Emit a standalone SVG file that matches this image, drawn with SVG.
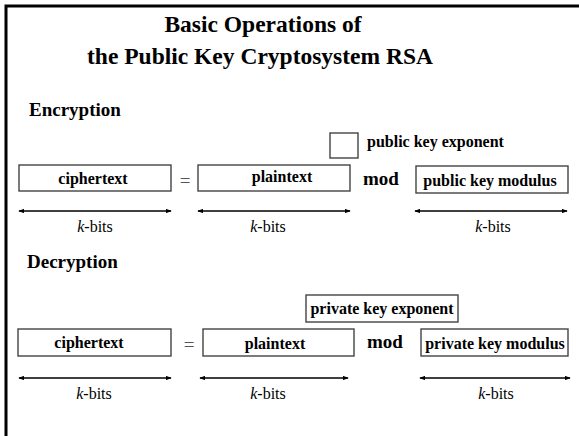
<svg xmlns="http://www.w3.org/2000/svg" width="579" height="436" viewBox="0 0 579 436">
  <style>
    text { font-family: "Liberation Serif", "Times New Roman", serif; fill: #000; }
    .title { font-size: 23.5px; font-weight: bold; text-anchor: middle; }
    .head { font-size: 19px; font-weight: bold; }
    .lbl { font-size: 16px; font-weight: bold; }
    .op { font-size: 19px; font-weight: bold; }
    .eq { font-size: 19px; fill: #555; text-anchor: middle; }
    .bits { font-size: 16px; text-anchor: middle; }
    .box { fill: #fff; stroke: #444; stroke-width: 1.4; }
    .arrow { stroke: #000; stroke-width: 1.4; fill: none; marker-start: url(#tip); marker-end: url(#tip); }
    .frame { stroke: #000; stroke-width: 3; fill: none; }
  </style>
  <defs>
    <marker id="tip" viewBox="0 0 8 6" refX="7" refY="3" markerWidth="6" markerHeight="4.5" markerUnits="userSpaceOnUse" orient="auto-start-reverse">
      <path d="M0,0 L8,3 L0,6 Z" fill="#000"/>
    </marker>
  </defs>

  <rect width="579" height="436" fill="#fff"/>
  <!-- page frame: top and left rules -->
  <path class="frame" d="M6,436 V6 H579"/>

  <g id="title">
    <text class="title" x="263" y="32">Basic Operations of</text>
    <text class="title" x="260" y="64">the Public Key Cryptosystem RSA</text>
  </g>

  <!-- Encryption -->
  <text class="head" x="29" y="116">Encryption</text>

  <g id="enc-ciphertext">
    <rect class="box" x="19" y="165" width="152" height="26"/>
    <text class="lbl" x="93" y="184" text-anchor="middle">ciphertext</text>
  </g>
  <text class="eq" x="185" y="187">=</text>
  <g id="enc-plaintext">
    <rect class="box" x="198" y="165" width="152" height="26"/>
    <text class="lbl" x="282" y="182" text-anchor="middle">plaintext</text>
  </g>
  <g id="enc-exponent">
    <rect class="box" x="330" y="133" width="28" height="25"/>
    <text class="lbl" x="367" y="147">public key exponent</text>
  </g>
  <text class="op" x="363" y="185">mod</text>
  <g id="enc-modulus">
    <rect class="box" x="416" y="166" width="152" height="27"/>
    <text class="lbl" x="490" y="186" text-anchor="middle">public key modulus</text>
  </g>

  <!-- Decryption -->
  <text class="head" x="27" y="268">Decryption</text>

  <g id="dec-ciphertext">
    <rect class="box" x="18" y="329" width="153" height="27"/>
    <text class="lbl" x="89" y="348" text-anchor="middle">ciphertext</text>
  </g>
  <text class="eq" x="189" y="351">=</text>
  <g id="dec-plaintext">
    <rect class="box" x="203" y="329" width="151" height="27"/>
    <text class="lbl" x="275" y="349" text-anchor="middle">plaintext</text>
  </g>
  <g id="dec-exponent">
    <rect class="box" x="306" y="295" width="152" height="27"/>
    <text class="lbl" x="382" y="314" text-anchor="middle">private key exponent</text>
  </g>
  <text class="op" x="367" y="348">mod</text>
  <g id="dec-modulus">
    <rect class="box" x="421" y="329" width="147" height="27"/>
    <text class="lbl" x="495" y="349" text-anchor="middle">private key modulus</text>
  </g>

  <!-- bit-length dimension arrows -->
  <g id="connectors">
    <line class="arrow" x1="19" y1="211" x2="171" y2="211"/>
    <line class="arrow" x1="198" y1="211" x2="350" y2="211"/>
    <line class="arrow" x1="415" y1="211" x2="567" y2="211"/>
    <line class="arrow" x1="19" y1="378" x2="171" y2="378"/>
    <line class="arrow" x1="200" y1="378" x2="348" y2="378"/>
    <line class="arrow" x1="420" y1="378" x2="570" y2="378"/>
  </g>

  <g id="bit-labels">
    <text class="bits" x="95" y="232"><tspan font-style="italic">k</tspan>-bits</text>
    <text class="bits" x="268" y="232"><tspan font-style="italic">k</tspan>-bits</text>
    <text class="bits" x="493" y="232"><tspan font-style="italic">k</tspan>-bits</text>
    <text class="bits" x="94" y="399"><tspan font-style="italic">k</tspan>-bits</text>
    <text class="bits" x="268" y="399"><tspan font-style="italic">k</tspan>-bits</text>
    <text class="bits" x="496" y="399"><tspan font-style="italic">k</tspan>-bits</text>
  </g>
</svg>
